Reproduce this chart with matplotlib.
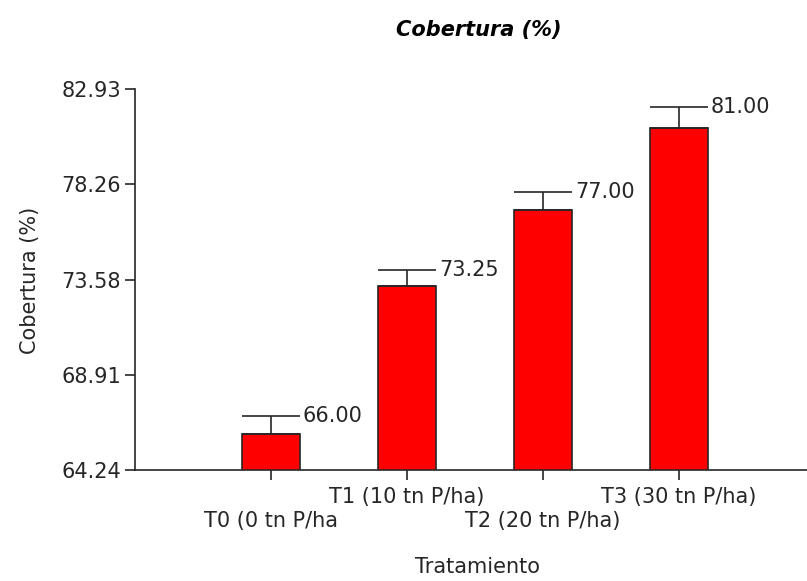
import matplotlib.pyplot as plt
import matplotlib.transforms as mtransforms
import numpy as np

plt.rcParams['font.family'] = ['DejaVu Sans']

# Cobertura por tratamiento
treatments = ['T0 (0 tn P/ha', 'T1 (10 tn P/ha)', 'T2 (20 tn P/ha)', 'T3 (30 tn P/ha)']
means = [66.00, 73.25, 77.00, 81.00]
errors = [0.89, 0.80, 0.90, 1.07]
yticks = [64.24, 68.91, 73.58, 78.26, 82.93]

ink = '#262626'
fs = 15

fig = plt.figure(figsize=(8.07, 5.81), dpi=100)
ax = fig.add_axes([135/807, 111/581, 1 - 135/807, 381/581])

x = np.arange(len(means))
width = 0.43
ax.bar(x, means, width, bottom=0, color='#ff0000', edgecolor=ink, linewidth=1.2, zorder=2)
ax.errorbar(x, means, yerr=[np.zeros(len(errors)), errors], fmt='none',
            ecolor=ink, elinewidth=1.2, capsize=21.2, capthick=1.2, zorder=3)

for xi, m, e in zip(x, means, errors):
    ax.text(xi + width / 2 + 0.02, m + e, f'{m:.2f}', ha='left', va='center',
            fontsize=fs, color=ink)

ax.set_xlim(-1, 3.94)
ax.set_ylim(yticks[0], yticks[-1])
ax.set_yticks(yticks)
ax.set_yticklabels([f'{t:.2f}' for t in yticks])
ax.set_xticks(x)
ax.set_xticklabels(treatments)

ax.tick_params(axis='both', direction='out', length=7, width=1.2, color=ink,
               labelsize=fs, labelcolor=ink)
ax.tick_params(axis='y', pad=3)
ax.tick_params(axis='x', pad=5)

# staggered category labels
shift = mtransforms.ScaledTranslation(0, -24 / 100, fig.dpi_scale_trans)
for i, lab in enumerate(ax.get_xticklabels()):
    if i % 2 == 0:
        lab.set_transform(lab.get_transform() + shift)

for side in ['top', 'right']:
    ax.spines[side].set_visible(False)
for side in ['left', 'bottom']:
    ax.spines[side].set_color(ink)
    ax.spines[side].set_linewidth(1.2)

fig.text(479/807, 1 - 30/581, 'Cobertura (%)', ha='center', va='center',
         fontsize=fs, fontweight='bold', fontstyle='italic', color='black')
fig.text(478/807, 1 - 567/581, 'Tratamiento', ha='center', va='center',
         fontsize=fs, color=ink)
fig.text(30/807, 1 - 280/581, 'Cobertura (%)', ha='center', va='center',
         rotation=90, fontsize=fs, color=ink)

fig.savefig('out.png', dpi=100)
